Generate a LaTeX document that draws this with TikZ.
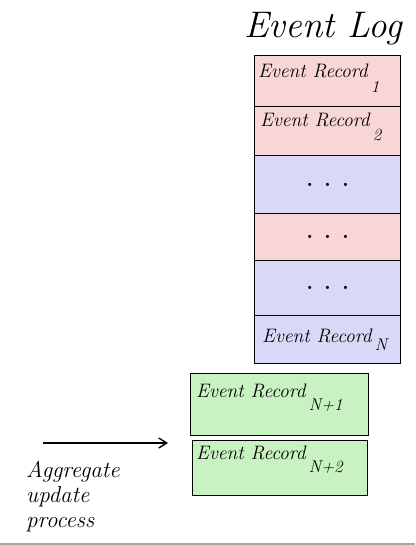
\documentclass[tikz,border=0pt]{standalone}
\usetikzlibrary{arrows.meta}
\newcommand{\rsub}[2]{\raisebox{#1}{\fontsize{17}{17}\selectfont #2}}
\begin{document}
\begin{tikzpicture}[x=1pt,y=-1pt,
  rowbox/.style={draw=black,line width=1.3pt,minimum width=146pt,inner sep=0pt,anchor=north west},
  pinkrow/.style={rowbox,fill=pinkc},
  bluerow/.style={rowbox,fill=bluec},
  greenbox/.style={draw=black,line width=1.3pt,fill=greenc,inner sep=0pt,anchor=north west},
  rec/.style={font=\fontsize{19.5}{19.5}\selectfont\itshape,anchor=north west,inner sep=0pt},
  dots/.style={font=\fontsize{22}{22}\selectfont\bfseries,inner sep=0pt},
  lbl/.style={font=\fontsize{23}{25}\selectfont\itshape,align=left,inner sep=0pt}]
\definecolor{pinkc}{HTML}{F9D6D6}
\definecolor{bluec}{HTML}{D9D9F7}
\definecolor{greenc}{HTML}{C9F2C2}
\useasboundingbox (0,0) rectangle (415,545);
\fill[white] (0,0) rectangle (415,545);
% title
\node[font=\fontsize{37}{37}\selectfont\itshape,inner sep=0pt] (title) at (323,29) {Event Log};
% log rows
\node[pinkrow,minimum height=51pt] (r1) at (254,55) {};
\node[pinkrow,minimum height=49pt] (r2) at (254,106) {};
\node[bluerow,minimum height=58pt] (r3) at (254,155) {};
\node[pinkrow,minimum height=47pt] (r4) at (254,213) {};
\node[bluerow,minimum height=55pt] (r5) at (254,260) {};
\node[bluerow,minimum height=48pt] (r6) at (254,315) {};
% row texts
\node[rec] (t1) at ([xshift=4pt,yshift=-9pt]r1.north west) {Event Record\,\rsub{-15pt}{1}};
\node[rec] (t2) at ([xshift=6pt,yshift=-7pt]r2.north west) {Event Record\,\rsub{-14pt}{2}};
\node[dots] (d3) at (r3.center) {. . .};
\node[dots] (d4) at (r4.center) {. . .};
\node[dots] (d5) at (r5.center) {. . .};
\node[rec] (t6) at ([xshift=8pt,yshift=-14pt]r6.north west) {Event Record\,\rsub{-8pt}{N}};
% green boxes
\node[greenbox,minimum width=178pt,minimum height=62pt] (g1) at (190,373) {};
\node[greenbox,minimum width=175pt,minimum height=55pt] (g2) at (192,440) {};
\node[rec] (tg1) at ([xshift=6pt,yshift=-11pt]g1.north west) {Event Record\,\rsub{-13pt}{N+1}};
\node[rec] (tg2) at ([xshift=4pt,yshift=-6pt]g2.north west) {Event Record\,\rsub{-13pt}{N+2}};
% arrow
\coordinate (as) at (43,443);
\draw[line width=1.4pt,-{Straight Barb[length=8pt,width=10pt]},shorten >=24pt] (as) -- (g2.west |- as);
% label
\node[lbl,anchor=north west] (agg) at (26,461) {Aggregate\\update\\process};
% bottom line
\draw[gray!70,line width=2pt] (0,543.5) -- (415,543.5);
\end{tikzpicture}
\end{document}
